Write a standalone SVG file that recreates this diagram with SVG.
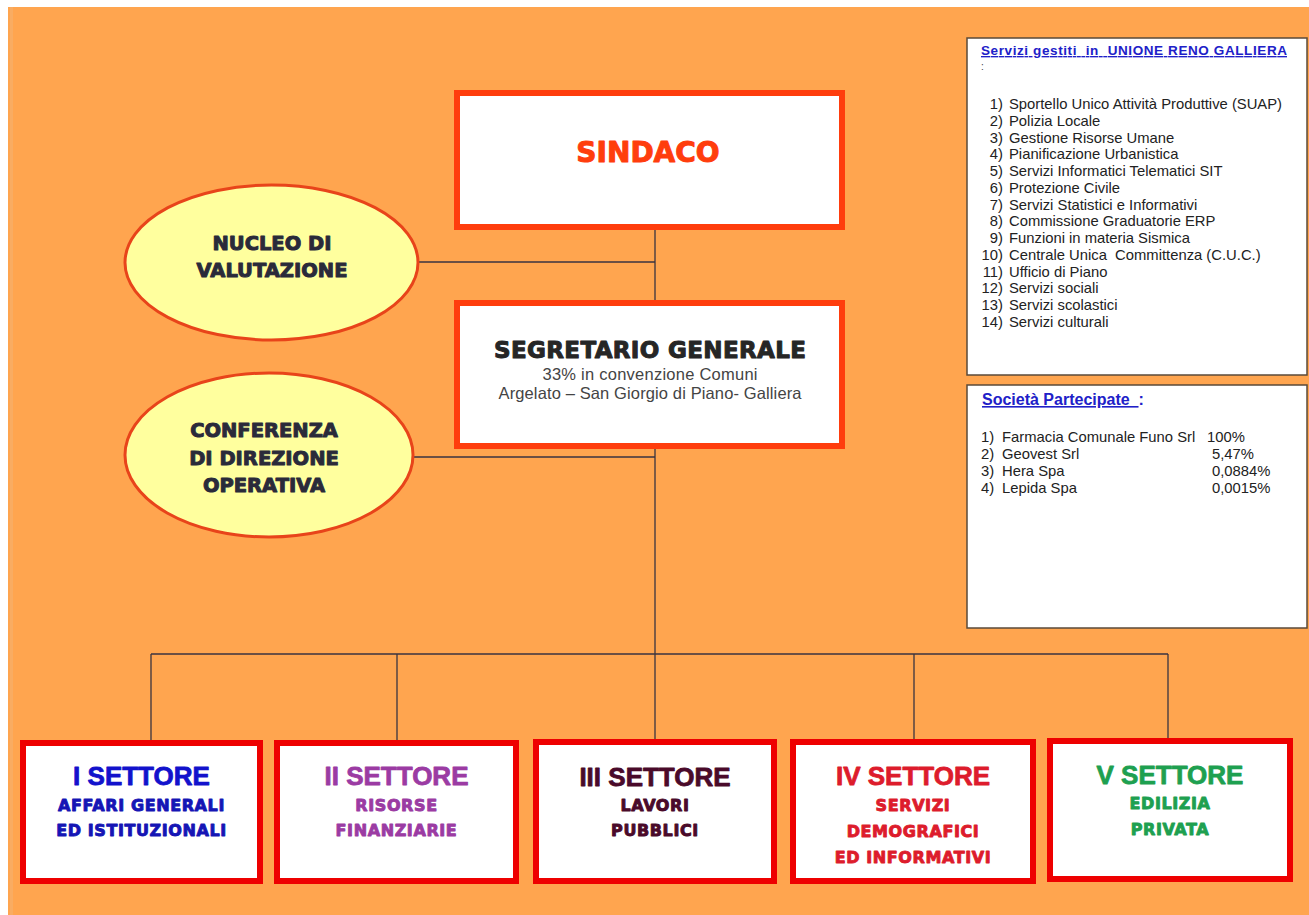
<svg xmlns="http://www.w3.org/2000/svg" width="1309" height="915" viewBox="0 0 1309 915">
<style>
.conn{stroke:#3a3340;stroke-width:1.3;fill:none}
.top{fill:#fff;stroke:#ff3d0d;stroke-width:6}
.set{fill:#fff;stroke:#ee0000;stroke-width:6}
.ell{fill:#ffff9e;stroke:#e8441a;stroke-width:3}
.panel{fill:#fff;stroke:#5a4a3a;stroke-width:1.5}
.wide{font-family:"DejaVu Sans",sans-serif;font-weight:900;text-anchor:middle;stroke-width:1;stroke-linejoin:round}
.arb{font-family:"Liberation Sans",Arial,sans-serif;font-weight:700;text-anchor:middle;stroke-width:0.8;stroke-linejoin:round}
.sub{font-family:"DejaVu Sans",sans-serif;font-weight:700;text-anchor:middle;font-size:16px;letter-spacing:0.6px;stroke-width:0.9;stroke-linejoin:round}
.list{font-family:"Liberation Sans",Arial,sans-serif;font-size:14.8px;fill:#222}
.ptitle{font-family:"Liberation Sans",Arial,sans-serif;font-weight:700;fill:#2020c8}
</style>
<rect x="0" y="0" width="1309" height="915" fill="#ffffff"/>
<rect x="8" y="7" width="1301" height="908" fill="#ffa54f"/>
<rect x="10" y="7" width="3" height="908" fill="#f5b070" opacity="0.6"/>

<g id="connectors">
<line class="conn" x1="655" y1="230" x2="655" y2="300"/>
<line class="conn" x1="418" y1="262" x2="655" y2="262"/>
<line class="conn" x1="412" y1="457" x2="655" y2="457"/>
<line class="conn" x1="655" y1="449" x2="655" y2="740"/>
<line class="conn" x1="151" y1="654" x2="1168" y2="654"/>
<line class="conn" x1="151" y1="654" x2="151" y2="740"/>
<line class="conn" x1="397" y1="654" x2="397" y2="740"/>
<line class="conn" x1="914" y1="654" x2="914" y2="740"/>
<line class="conn" x1="1168" y1="654" x2="1168" y2="738"/>
</g>

<g id="sindaco">
<rect class="top" x="457" y="93" width="385" height="134"/>
<text class="wide" x="648" y="162" font-size="28" fill="#ff3d0d" stroke="#ff3d0d">SINDACO</text>
</g>

<g id="segretario">
<rect class="top" x="457" y="303" width="385" height="143"/>
<text class="wide" x="650" y="358" font-size="23" fill="#262626" stroke="#262626" textLength="312">SEGRETARIO GENERALE</text>
<text x="650" y="380" font-family="Liberation Sans,Arial,sans-serif" font-size="16.5" fill="#444" text-anchor="middle" textLength="215">33% in convenzione Comuni</text>
<text x="650" y="399" font-family="Liberation Sans,Arial,sans-serif" font-size="16.5" fill="#444" text-anchor="middle" textLength="303">Argelato – San Giorgio di Piano- Galliera</text>
</g>

<g id="nucleo">
<ellipse class="ell" cx="271.5" cy="262.5" rx="146.5" ry="77.5"/>
<text class="wide" x="272" y="250" font-size="19.5" fill="#2a2a3a" stroke="#2a2a3a">NUCLEO DI</text>
<text class="wide" x="272" y="277" font-size="19.5" fill="#2a2a3a" stroke="#2a2a3a">VALUTAZIONE</text>
</g>

<g id="conferenza">
<ellipse class="ell" cx="269" cy="455" rx="144" ry="82"/>
<text class="wide" x="264" y="437" font-size="19.5" fill="#2a2a3a" stroke="#2a2a3a">CONFERENZA</text>
<text class="wide" x="264" y="465" font-size="19.5" fill="#2a2a3a" stroke="#2a2a3a">DI DIREZIONE</text>
<text class="wide" x="264" y="492" font-size="19.5" fill="#2a2a3a" stroke="#2a2a3a">OPERATIVA</text>
</g>

<g id="settore1" fill="#1212cc" stroke="#1212cc">
<rect class="set" x="23" y="743" width="237" height="138"/>
<text class="arb" x="141.5" y="785" font-size="26">I SETTORE</text>
<text class="sub" x="141.5" y="811" fill="#1515b5" stroke="#1515b5">AFFARI GENERALI</text>
<text class="sub" x="141.5" y="836" fill="#1515b5" stroke="#1515b5">ED ISTITUZIONALI</text>
</g>

<g id="settore2" fill="#9b3ba3" stroke="#9b3ba3">
<rect class="set" x="277" y="743" width="239" height="138"/>
<text class="arb" x="396.5" y="785" font-size="26">II SETTORE</text>
<text class="sub" x="396.5" y="811">RISORSE</text>
<text class="sub" x="396.5" y="836">FINANZIARIE</text>
</g>

<g id="settore3" fill="#4a0a2a" stroke="#4a0a2a">
<rect class="set" x="536" y="742" width="238" height="139"/>
<text class="arb" x="655" y="786" font-size="26">III SETTORE</text>
<text class="sub" x="655" y="811">LAVORI</text>
<text class="sub" x="655" y="836">PUBBLICI</text>
</g>

<g id="settore4" fill="#dd1c2c" stroke="#dd1c2c">
<rect class="set" x="793" y="742" width="240" height="139"/>
<text class="arb" x="913" y="785" font-size="26">IV SETTORE</text>
<text class="sub" x="913" y="811">SERVIZI</text>
<text class="sub" x="913" y="837">DEMOGRAFICI</text>
<text class="sub" x="913" y="863">ED INFORMATIVI</text>
</g>

<g id="settore5" fill="#1ea050" stroke="#1ea050">
<rect class="set" x="1050" y="741" width="240" height="138"/>
<text class="arb" x="1170" y="784" font-size="26">V SETTORE</text>
<text class="sub" x="1170" y="809">EDILIZIA</text>
<text class="sub" x="1170" y="835">PRIVATA</text>
</g>

<g id="servizi-unione">
<rect class="panel" x="967" y="38" width="340" height="337"/>
<text class="ptitle" x="981" y="55" style="font-size:13.5px" xml:space="preserve" text-decoration="underline" textLength="306">Servizi gestiti  in  UNIONE RENO GALLIERA</text>
<text x="981" y="70" style="font-family:'Liberation Sans',Arial,sans-serif;font-size:10px;fill:#444">:</text>
<g class="list">
<text x="1003" y="109" text-anchor="end">1)</text><text x="1009" y="109">Sportello Unico Attività Produttive (SUAP)</text>
<text x="1003" y="125.8" text-anchor="end">2)</text><text x="1009" y="125.8">Polizia Locale</text>
<text x="1003" y="142.5" text-anchor="end">3)</text><text x="1009" y="142.5">Gestione Risorse Umane</text>
<text x="1003" y="159.3" text-anchor="end">4)</text><text x="1009" y="159.3">Pianificazione Urbanistica</text>
<text x="1003" y="176" text-anchor="end">5)</text><text x="1009" y="176">Servizi Informatici Telematici SIT</text>
<text x="1003" y="192.8" text-anchor="end">6)</text><text x="1009" y="192.8">Protezione Civile</text>
<text x="1003" y="209.5" text-anchor="end">7)</text><text x="1009" y="209.5">Servizi Statistici e Informativi</text>
<text x="1003" y="226.3" text-anchor="end">8)</text><text x="1009" y="226.3">Commissione Graduatorie ERP</text>
<text x="1003" y="243" text-anchor="end">9)</text><text x="1009" y="243">Funzioni in materia Sismica</text>
<text x="1003" y="259.8" text-anchor="end">10)</text><text x="1009" y="259.8" xml:space="preserve">Centrale Unica  Committenza (C.U.C.)</text>
<text x="1003" y="276.5" text-anchor="end">11)</text><text x="1009" y="276.5">Ufficio di Piano</text>
<text x="1003" y="293.3" text-anchor="end">12)</text><text x="1009" y="293.3">Servizi sociali</text>
<text x="1003" y="310" text-anchor="end">13)</text><text x="1009" y="310">Servizi scolastici</text>
<text x="1003" y="326.8" text-anchor="end">14)</text><text x="1009" y="326.8">Servizi culturali</text>
</g>
</g>

<g id="societa-partecipate">
<rect class="panel" x="967" y="385" width="340" height="243"/>
<text class="ptitle" x="982" y="405" style="font-size:16px" xml:space="preserve"><tspan text-decoration="underline">Società Partecipate  </tspan>:</text>
<g class="list">
<text x="981" y="442">1)</text><text x="1002" y="442">Farmacia Comunale Funo Srl</text><text x="1207" y="442">100%</text>
<text x="981" y="459">2)</text><text x="1002" y="459">Geovest Srl</text><text x="1212" y="459">5,47%</text>
<text x="981" y="476">3)</text><text x="1002" y="476">Hera Spa</text><text x="1212" y="476">0,0884%</text>
<text x="981" y="493">4)</text><text x="1002" y="493">Lepida Spa</text><text x="1212" y="493">0,0015%</text>
</g>
</g>
</svg>
